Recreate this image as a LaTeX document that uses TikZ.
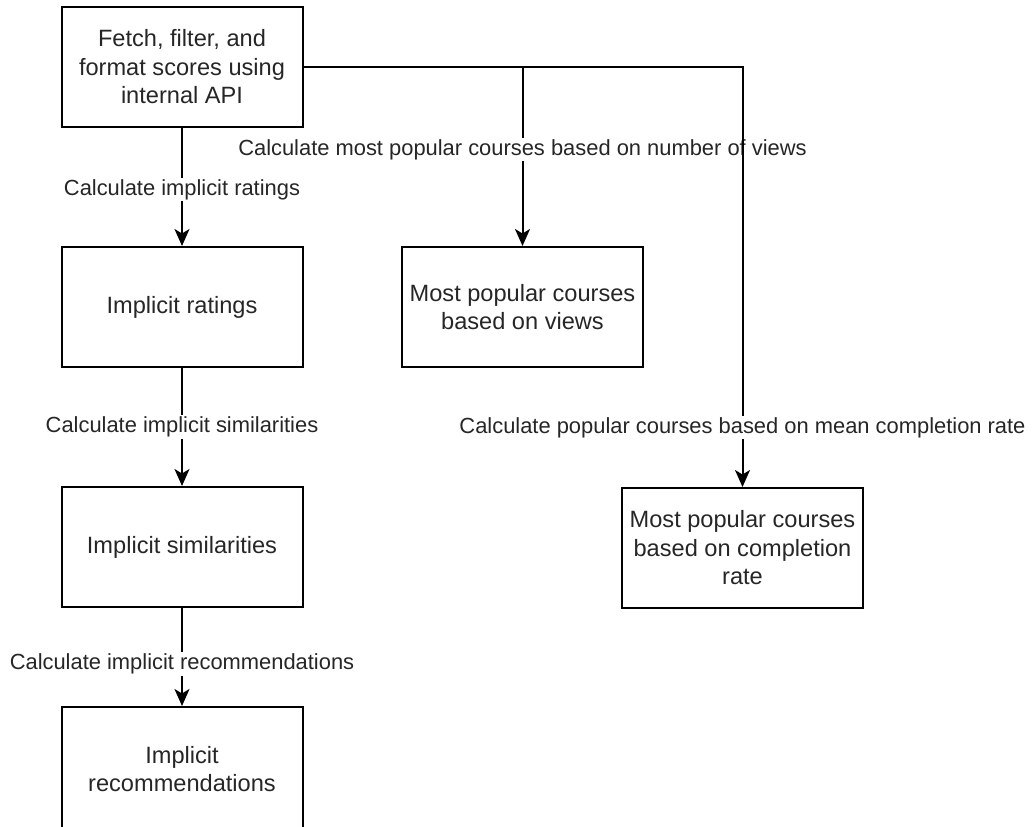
\documentclass[tikz,border=0pt]{standalone}
\usepackage{fontspec}
\setmainfont{Liberation Sans}
\usetikzlibrary{arrows.meta}
\begin{document}
\begin{tikzpicture}[x=1pt,y=-1pt,
  box/.style={draw, line width=2pt, minimum width=241pt, minimum height=120pt,
    align=center, inner sep=0pt, text=black!85,
    font=\fontsize{23.6}{28.5}\selectfont},
  edge/.style={line width=2pt, -{Stealth[length=17pt,width=15pt,inset=4.5pt]}},
  lbl/.style={fill=white, inner sep=1.5pt, text=black!85,
    font=\fontsize{21.9}{26}\selectfont}]
\useasboundingbox (0,0) rectangle (1034,827);
\node[box] (fetch) at (182,67) {Fetch, filter, and\\format scores using\\internal API};
\node[box] (ratings) at (182,307) {Implicit ratings};
\node[box] (sims) at (182,547) {Implicit similarities};
\node[box, minimum height=124pt] (recs) at (182,769) {Implicit\\recommendations};
\node[box] (views) at (522.5,307) {Most popular courses\\based on views};
\node[box] (compl) at (742.5,548) {Most popular courses\\based on completion\\rate};
\draw[edge] (fetch) -- node[lbl, pos=0.52] {Calculate implicit ratings} (ratings);
\draw[edge] (ratings) -- node[lbl] {Calculate implicit similarities} (sims);
\draw[edge] (sims) -- node[lbl, pos=0.57] {Calculate implicit recommendations} (recs);
\draw[edge] (fetch.east) -| node[lbl, pos=0.73] {Calculate most popular courses based on number of views} (views.north);
\draw[edge] (fetch.east) -| node[lbl, pos=0.929] {Calculate popular courses based on mean completion rate} (compl.north);
\end{tikzpicture}
\end{document}
